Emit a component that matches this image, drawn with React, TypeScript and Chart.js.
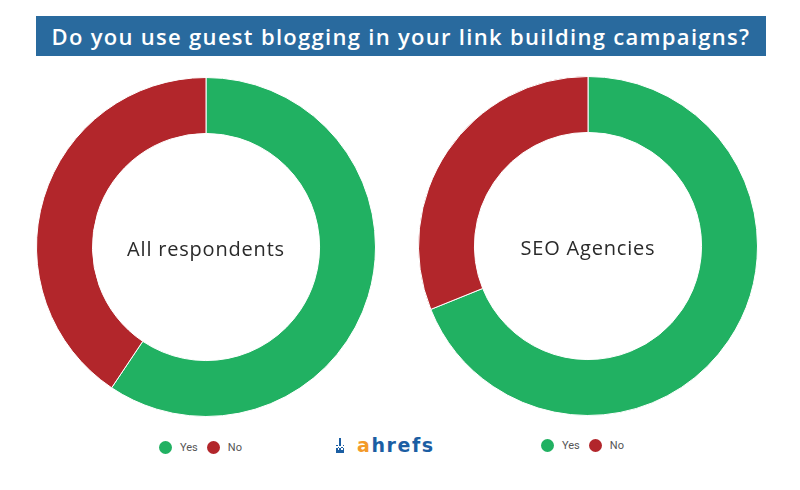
import React, { useEffect, useRef } from "react";
import { Chart, registerables } from "chart.js";

Chart.register(...registerables);

const TITLE = "Do you use guest blogging in your link building campaigns?";
const categories = ["Yes", "No"];
const allRespondentsValues = [59.4, 40.6];
const seoAgenciesValues = [68.9, 31.1];
const centerLabels = ["All respondents", "SEO Agencies"];
const sliceColors = ["#21b162", "#b2262b"];

function Donut(props: { values: number[]; label: string; left: number; top: number; size: number }) {
  const ref = useRef<HTMLCanvasElement | null>(null);
  useEffect(() => {
    if (!ref.current) return;
    const chart = new Chart(ref.current, {
      type: "doughnut",
      data: {
        labels: categories,
        datasets: [
          {
            data: props.values,
            backgroundColor: sliceColors,
            borderColor: "#ffffff",
            borderWidth: 1,
          },
        ],
      },
      options: {
        responsive: false,
        animation: false,
        devicePixelRatio: 1,
        cutout: "67%",
        layout: { padding: 0 },
        plugins: { legend: { display: false }, tooltip: { enabled: false } },
      },
    });
    return () => chart.destroy();
  }, []);
  return (
    <>
      <canvas
        ref={ref}
        width={props.size}
        height={props.size}
        style={{ position: "absolute", left: props.left, top: props.top, width: props.size, height: props.size }}
      />
      <div
        style={{
          position: "absolute",
          left: props.left,
          top: props.top + props.size / 2 - 12,
          width: props.size,
          height: 28,
          lineHeight: "28px",
          textAlign: "center",
          fontFamily: "'Open Sans', sans-serif",
          fontSize: 20,
          letterSpacing: 0.8,
          color: "#2a2a2a",
        }}
      >
        {props.label}
      </div>
    </>
  );
}

function Legend(props: { left: number; top: number }) {
  return (
    <div
      style={{
        position: "absolute",
        left: props.left,
        top: props.top,
        display: "flex",
        alignItems: "center",
        fontFamily: "Roboto, sans-serif",
        fontSize: 11,
        color: "#555555",
        height: 14,
      }}
    >
      {categories.map((c, i) => (
        <div key={c} style={{ display: "flex", alignItems: "center", marginRight: 9 }}>
          <span
            style={{
              display: "inline-block",
              width: 13,
              height: 13,
              borderRadius: "50%",
              background: sliceColors[i],
              marginRight: 8,
            }}
          />
          <span>{c}</span>
        </div>
      ))}
    </div>
  );
}

function Logo() {
  const blue = "#1b5ea3";
  const px: [number, number][] = [];
  for (let y = 0; y < 4; y++) px.push([2, y]);
  for (let y = 4; y < 9; y++) for (let x = 0; x < 5; x++) if ((x + y) % 2 === 0 || y > 6) px.push([x, y]);
  return (
    <div style={{ position: "absolute", left: 335, top: 433, height: 24, width: 110 }}>
      <div style={{ position: "absolute", left: 1, top: 5, width: 12, height: 18 }}>
        {px.map(([x, y], i) => (
          <div
            key={i}
            style={{ position: "absolute", left: x * 1.7, top: y * 1.7, width: 1.7, height: 1.7, background: blue }}
          />
        ))}
      </div>
      <div
        style={{
          position: "absolute",
          left: 22,
          top: 0,
          fontFamily: "'DejaVu Sans', sans-serif",
          fontWeight: 700,
          fontSize: 19,
          letterSpacing: 1.6,
          lineHeight: "24px",
          color: blue,
          whiteSpace: "nowrap",
        }}
      >
        <span style={{ color: "#f39a2a" }}>a</span>hrefs
      </div>
    </div>
  );
}

export default function App() {
  return (
    <div style={{ position: "absolute", left: 0, top: 0, width: 800, height: 490, background: "#ffffff", overflow: "hidden" }}>
      <div
        style={{
          position: "absolute",
          left: 36,
          top: 16,
          width: 730,
          height: 40,
          background: "#296a9e",
          color: "#ffffff",
          fontFamily: "'Open Sans', sans-serif",
          fontWeight: 600,
          fontSize: 22,
          letterSpacing: 1.3,
          lineHeight: "40px",
          textAlign: "center",
          whiteSpace: "nowrap",
        }}
      >
        {TITLE}
      </div>
      <Donut values={allRespondentsValues} label={centerLabels[0]} left={36} top={77} size={340} />
      <Donut values={seoAgenciesValues} label={centerLabels[1]} left={418} top={76} size={340} />
      <Legend left={159} top={440} />
      <Legend left={541} top={438} />
      <Logo />
    </div>
  );
}
